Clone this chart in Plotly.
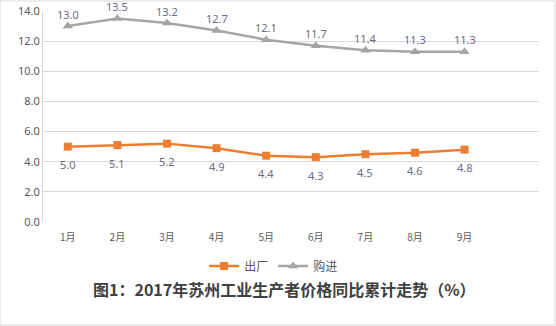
import plotly.graph_objects as go

months = ["1月", "2月", "3月", "4月", "5月", "6月", "7月", "8月", "9月"]
factory = [5.0, 5.1, 5.2, 4.9, 4.4, 4.3, 4.5, 4.6, 4.8]
purchase = [13.0, 13.5, 13.2, 12.7, 12.1, 11.7, 11.4, 11.3, 11.3]
y_ticks = [0, 2, 4, 6, 8, 10, 12, 14]

x = list(range(len(months)))
num_font = "Noto Sans, Liberation Sans, sans-serif"
cjk_font = "Noto Sans CJK SC, sans-serif"
label_color = "#6B6B80"

fig = go.Figure()
fig.add_trace(go.Scatter(
    x=x, y=factory, name="出厂", mode="lines+markers",
    line=dict(color="#ED7D31", width=2.5),
    marker=dict(symbol="square", size=8, color="#ED7D31"),
    cliponaxis=False,
))
fig.add_trace(go.Scatter(
    x=x, y=purchase, name="购进", mode="lines+markers",
    line=dict(color="#A5A5A5", width=2.5),
    marker=dict(symbol="triangle-up", size=9, color="#A5A5A5"),
    cliponaxis=False,
))

# value labels: purchase above its points, factory below
labels = []
for xi, v in zip(x, purchase):
    labels.append(dict(x=xi, y=v, text=f"{v:.1f}", yshift=12, showarrow=False,
                       font=dict(family=num_font, size=11, color=label_color)))
for xi, v in zip(x, factory):
    labels.append(dict(x=xi, y=v, text=f"{v:.1f}", yshift=-18, showarrow=False,
                       font=dict(family=num_font, size=11, color=label_color)))

labels.append(dict(
    text="<b>图1：2017年苏州工业生产者价格同比累计走势（%）</b>",
    xref="paper", yref="paper", x=0.486, y=-0.25, xanchor="center", yanchor="top",
    showarrow=False, font=dict(family=cjk_font, size=16, color="#404040"),
))

fig.update_layout(
    width=556, height=326,
    margin=dict(l=43, r=17, t=11, b=104, autoexpand=False),
    paper_bgcolor="white", plot_bgcolor="white",
    showlegend=True,
    legend=dict(orientation="h", x=0.465, xanchor="center", y=-0.14, yanchor="top",
                font=dict(family=cjk_font, size=12, color="#595959"),
                itemwidth=30, tracegroupgap=0),
    annotations=labels,
    shapes=[dict(type="rect", xref="paper", yref="paper",
                 x0=-43/496, x1=1+16/496, y0=-103/211, y1=1+10/211,
                 line=dict(color="#D9D9D9", width=1))],
)
fig.update_xaxes(
    range=[-0.5, 9.5], tickvals=x, ticktext=months,
    showgrid=False, zeroline=False, showline=False,
    ticks="outside", ticklen=6, tickcolor="white",
    tickfont=dict(family=cjk_font, size=10, color="#595959"),
)
fig.update_yaxes(
    range=[0, 14], tickvals=y_ticks, ticktext=[f"{v:.1f}" for v in y_ticks],
    showgrid=True, gridcolor="#D9D9D9", gridwidth=1, zeroline=False,
    showline=True, linecolor="#D9D9D9", ticks="",
    tickfont=dict(family=num_font, size=11, color="#595959"),
)
fig.write_html("out.html")
